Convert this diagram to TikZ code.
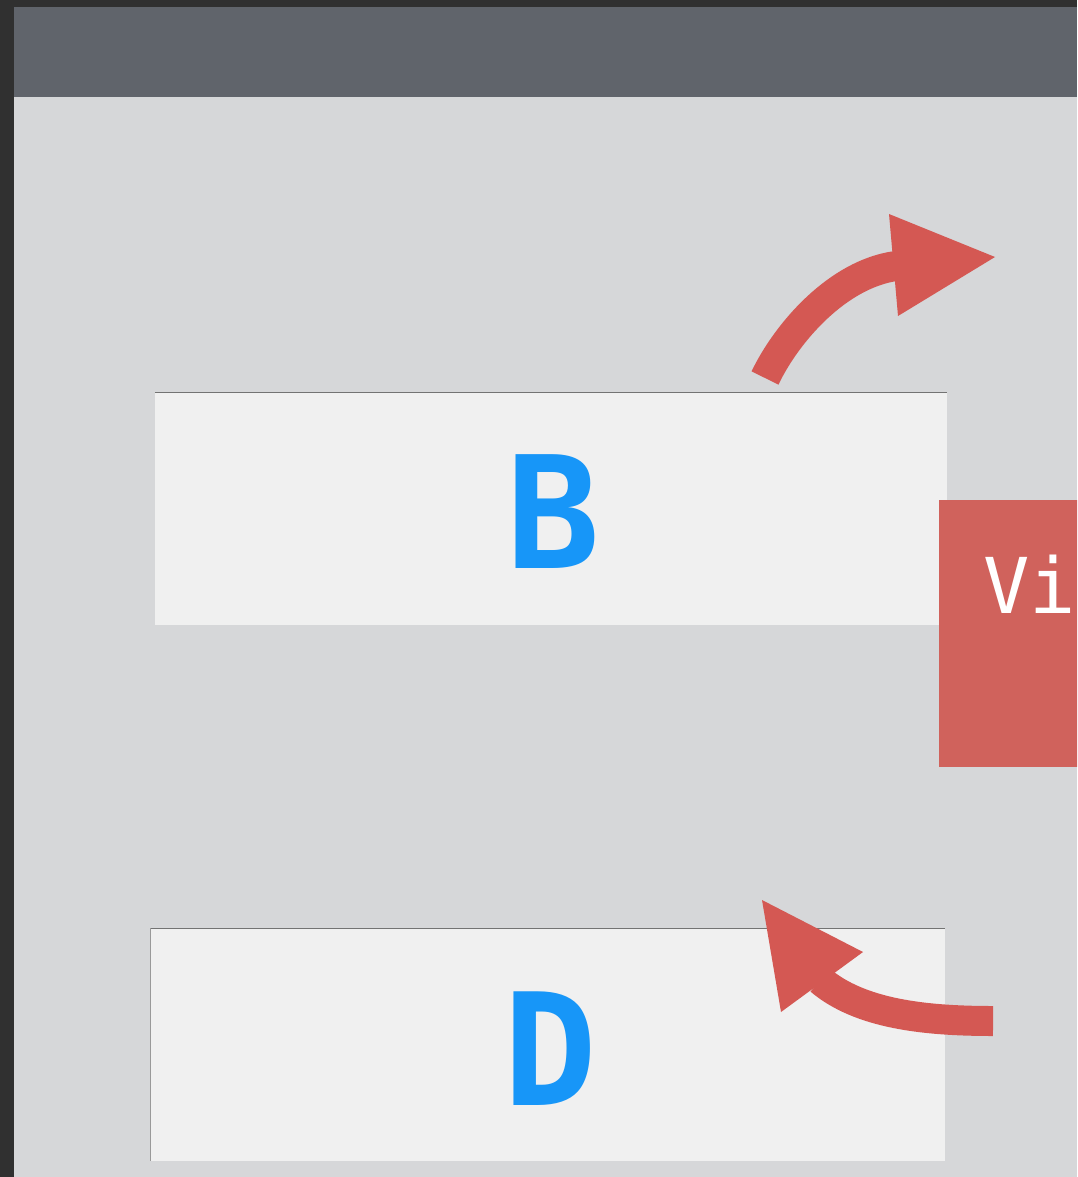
\documentclass[tikz,border=0pt]{standalone}
\usepackage{fontspec}
\newfontfamily\monofont{DejaVu Sans Mono}
\definecolor{frame}{HTML}{303030}
\definecolor{topbar}{HTML}{60646B}
\definecolor{bggray}{HTML}{D6D7D9}
\definecolor{boxfill}{HTML}{F0F0F0}
\definecolor{letterblue}{HTML}{1796F8}
\definecolor{arrowred}{HTML}{D45853}
\definecolor{boxred}{HTML}{D0625C}
\tikzset{
  panel/.style={fill=boxfill, draw=none, minimum width=#1, minimum height=232pt, inner sep=0pt},
  bigletter/.style={text=letterblue, font=\monofont\bfseries\fontsize{156}{156}\selectfont, inner sep=0pt},
  shaft/.style={draw=arrowred, line width=30pt, line cap=butt},
  headtri/.style={fill=arrowred, draw=none},
  edgeline/.style={draw=black!55, line width=0.9pt}
}
\begin{document}
\begin{tikzpicture}[x=1pt,y=-1pt]
\useasboundingbox (0,0) rectangle (1077,1177);
\clip (0,0) rectangle (1077,1177);
% frame and background
\fill[frame] (0,0) rectangle (1077,1177);
\fill[bggray] (14,97) rectangle (1077,1177);
\fill[topbar] (14,7) rectangle (1077,97);
% panels
\node[panel=792pt] (B) at (551,509) {};
\node[panel=794pt] (D) at (548,1044.5) {};
\draw[edgeline] (B.north west) -- (B.north east);
\draw[edgeline] (D.north west) -- (D.north east);
\draw[edgeline, draw=black!40] (D.north west) -- (D.south west);
\node[bigletter] (Bt) at (553,512) {B};
\node[bigletter] (Dt) at (550,1049) {D};
% red box
\node[fill=boxred, inner sep=0pt, minimum width=200pt, minimum height=267pt, anchor=north west] (R) at (939,500) {};
\node[text=white, font=\monofont\fontsize{77}{77}\selectfont, inner sep=0pt, anchor=base west] (Rt) at (983,613) {Vi};
% upper arrow
\coordinate (ua) at (765,378);
\coordinate (ub) at (896,266);
\draw[shaft] (ua) .. controls (787,332) and (838,274) .. (ub);
\fill[headtri] (889,214) -- (995,257) -- (898,316) -- cycle;
% lower arrow
\coordinate (la) at (993,1021);
\coordinate (lb) at (820,980);
\draw[shaft] (la) .. controls (925,1021) and (860,1014) .. (lb);
\fill[headtri] (762,900) -- (863,952) -- (781,1012) -- cycle;
\end{tikzpicture}
\end{document}
